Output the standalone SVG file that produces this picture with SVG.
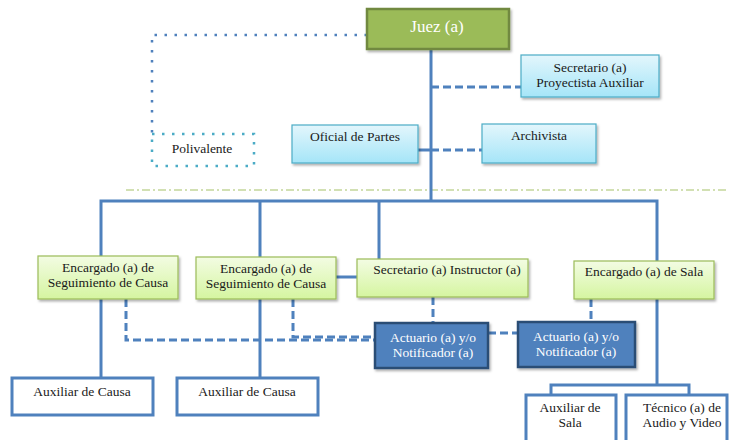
<svg xmlns="http://www.w3.org/2000/svg" width="729" height="440" viewBox="0 0 729 440">
  <defs>
    <linearGradient id="gBlue" x1="0" y1="0" x2="0" y2="1">
      <stop offset="0" stop-color="#e3f6fc"/>
      <stop offset="1" stop-color="#a5e5f8"/>
    </linearGradient>
    <linearGradient id="gGreen" x1="0" y1="0" x2="0" y2="1">
      <stop offset="0" stop-color="#f3fce3"/>
      <stop offset="1" stop-color="#d5f5a0"/>
    </linearGradient>
    <filter id="shadow" x="-10%" y="-10%" width="125%" height="140%">
      <feDropShadow dx="1.5" dy="2" stdDeviation="1.2" flood-color="#000" flood-opacity="0.3"/>
    </filter>
  </defs>
  <style>
    text { font-family: "Liberation Serif", "Times New Roman", serif; font-size: 13.5px; fill: #1a1a1a; text-anchor: middle; }
    .solid { fill: none; stroke: #4f81bd; stroke-width: 3; }
    .dash { fill: none; stroke: #4f81bd; stroke-width: 3; stroke-dasharray: 8 4; }
    .dot { fill: none; stroke: #4f81bd; stroke-width: 2.5; stroke-dasharray: 2.5 7.5; }
    .sep { fill: none; stroke: #c3d69b; stroke-width: 1.5; stroke-dasharray: 8 3 2 3; }
    .blue { fill: url(#gBlue); stroke: #4bacc6; stroke-width: 1.2; filter: url(#shadow); }
    .green { fill: url(#gGreen); stroke: #9bbb59; stroke-width: 1.2; filter: url(#shadow); }
    .dark { fill: #4f81bd; stroke: #2c4d75; stroke-width: 2.5; filter: url(#shadow); }
    .white { fill: #fff; stroke: #4f81bd; stroke-width: 3; }
    .onDark { fill: #fff; }
  </style>

  <!-- connectors -->
  <g id="connectors">
    <line class="sep" x1="126" y1="190" x2="729" y2="190"/>
    <path class="dot" d="M367 35 H152 V134"/>
    <path class="solid" d="M431 49 V201"/>
    <path class="dash" d="M431 87 H521"/>
    <path class="solid" d="M418 150 H431"/>
    <path class="dash" d="M431 150 H482"/>
    <path class="solid" d="M101 256 V201 H657 V385"/>
    <path class="solid" d="M260 201 V257"/>
    <path class="solid" d="M379 201 V259"/>
    <path class="solid" d="M336 277 H357"/>
    <path class="solid" d="M101 299 V378"/>
    <path class="solid" d="M260 299 V378"/>
    <path class="solid" d="M551 395 V385 H689 V395"/>
    <path class="dash" d="M126 299 V340 H375"/>
    <path class="dash" d="M293 299 V337 H375"/>
    <path class="dash" d="M433 297 V323"/>
    <path class="dash" d="M591 299 V322"/>
    <path class="dash" d="M488 333 H518"/>
  </g>

  <g id="juez">
    <rect x="367" y="9" width="142" height="40" fill="#9bbb59" stroke="#71893f" stroke-width="2.5" filter="url(#shadow)"/>
    <text x="437" y="32" style="font-size:17px;fill:#fff">Juez (a)</text>
  </g>

  <g id="secretario-proyectista">
    <rect class="blue" x="521" y="55" width="138" height="42"/>
    <text x="590" y="72">Secretario (a)</text>
    <text x="590" y="87">Proyectista Auxiliar</text>
  </g>

  <g id="polivalente">
    <rect x="152" y="134" width="102" height="32" fill="none" stroke="#4bacc6" stroke-width="2.5" stroke-dasharray="2.5 7.5"/>
    <text x="202" y="153">Polivalente</text>
  </g>

  <g id="oficial-partes">
    <rect class="blue" x="292" y="125" width="126" height="38"/>
    <text x="355" y="141">Oficial de Partes</text>
  </g>

  <g id="archivista">
    <rect class="blue" x="482" y="124" width="114" height="39"/>
    <text x="539" y="140">Archivista</text>
  </g>

  <g id="encargado-seguimiento-1">
    <rect class="green" x="38" y="256" width="140" height="43"/>
    <text x="108" y="272">Encargado (a) de</text>
    <text x="108" y="287">Seguimiento de Causa</text>
  </g>

  <g id="encargado-seguimiento-2">
    <rect class="green" x="196" y="257" width="140" height="42"/>
    <text x="266" y="273">Encargado (a) de</text>
    <text x="266" y="288">Seguimiento de Causa</text>
  </g>

  <g id="secretario-instructor">
    <rect class="green" x="357" y="259" width="171" height="38"/>
    <text x="447" y="274">Secretario (a) Instructor (a)</text>
  </g>

  <g id="encargado-sala">
    <rect class="green" x="574" y="261" width="140" height="38"/>
    <text x="644" y="276">Encargado (a) de Sala</text>
  </g>

  <g id="actuario-1">
    <rect class="dark" x="375" y="323" width="113" height="45"/>
    <text class="onDark" x="433" y="342">Actuario (a) y/o</text>
    <text class="onDark" x="433" y="357">Notificador (a)</text>
  </g>

  <g id="actuario-2">
    <rect class="dark" x="518" y="322" width="117" height="45"/>
    <text class="onDark" x="576" y="341">Actuario (a) y/o</text>
    <text class="onDark" x="576" y="356">Notificador (a)</text>
  </g>

  <g id="auxiliar-causa-1">
    <rect class="white" x="12" y="378" width="141" height="37"/>
    <text x="82" y="396">Auxiliar de Causa</text>
  </g>

  <g id="auxiliar-causa-2">
    <rect class="white" x="177" y="378" width="141" height="37"/>
    <text x="247" y="396">Auxiliar de Causa</text>
  </g>

  <g id="auxiliar-sala">
    <rect class="white" x="526" y="395" width="90" height="50"/>
    <text x="570" y="412">Auxiliar de</text>
    <text x="570" y="427">Sala</text>
  </g>

  <g id="tecnico-audio-video">
    <rect class="white" x="626" y="395" width="101" height="50"/>
    <text x="682" y="412">Técnico (a) de</text>
    <text x="682" y="427">Audio y Video</text>
  </g>
</svg>
